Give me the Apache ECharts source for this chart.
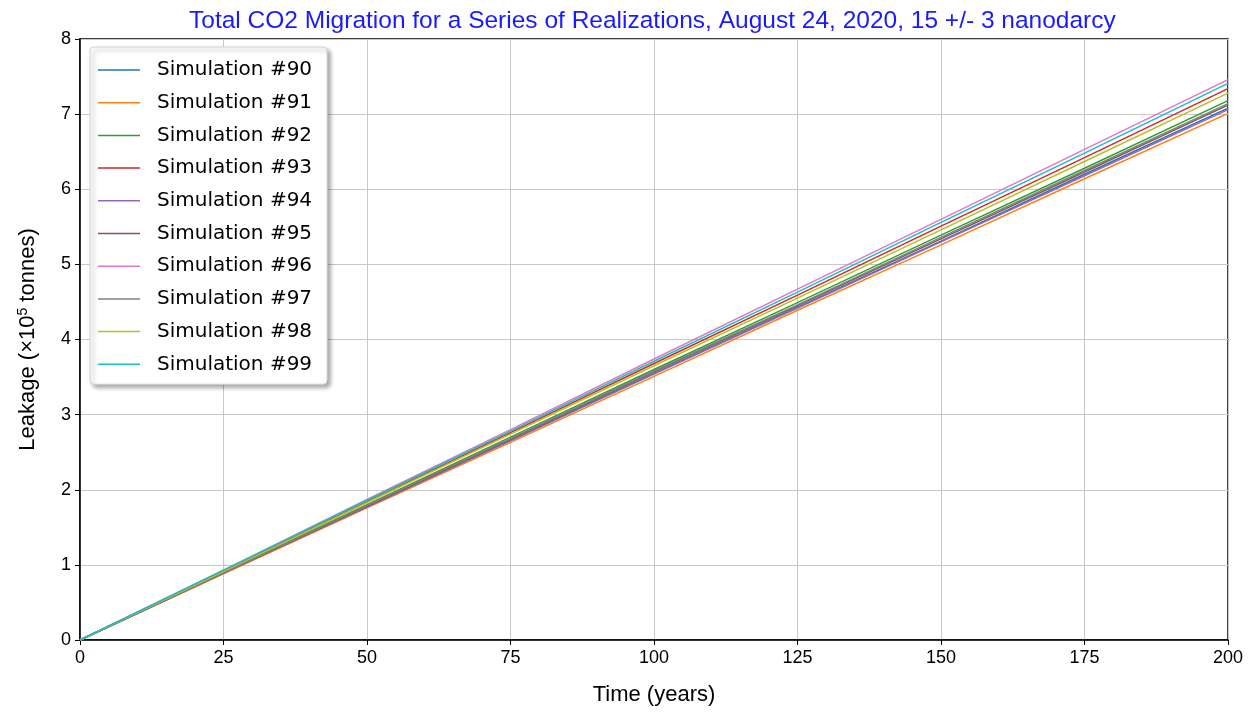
<!DOCTYPE html>
<html>
<head>
<meta charset="utf-8">
<script src="https://cdn.jsdelivr.net/npm/echarts@6/dist/echarts.min.js"></script>
<style>html,body{margin:0;padding:0;background:#fff;}#c{width:1257px;height:712px;}</style>
</head>
<body>
<div id="c"></div>
<script>
const years = [0, 25, 50, 75, 100, 125, 150, 175, 200];
const seriesNames = ['Simulation #90','Simulation #91','Simulation #92','Simulation #93','Simulation #94','Simulation #95','Simulation #96','Simulation #97','Simulation #98','Simulation #99'];
const sim90 = [0, 0.89, 1.78, 2.66, 3.55, 4.43, 5.31, 6.20, 7.08];
const sim91 = [0, 0.88, 1.76, 2.63, 3.51, 4.39, 5.26, 6.14, 7.01];
const sim92 = [0, 0.90, 1.80, 2.70, 3.60, 4.49, 5.39, 6.28, 7.18];
const sim93 = [0, 0.92, 1.84, 2.76, 3.68, 4.59, 5.51, 6.42, 7.34];
const sim94 = [0, 0.89, 1.77, 2.65, 3.54, 4.42, 5.30, 6.18, 7.06];
const sim95 = [0, 0.89, 1.78, 2.67, 3.57, 4.45, 5.34, 6.23, 7.12];
const sim96 = [0, 0.93, 1.87, 2.80, 3.74, 4.67, 5.60, 6.53, 7.46];
const sim97 = [0, 0.89, 1.79, 2.68, 3.58, 4.46, 5.36, 6.25, 7.14];
const sim98 = [0, 0.91, 1.83, 2.74, 3.65, 4.55, 5.46, 6.37, 7.28];
const sim99 = [0, 0.93, 1.86, 2.78, 3.71, 4.63, 5.56, 6.48, 7.41];
const allSims = [sim90, sim91, sim92, sim93, sim94, sim95, sim96, sim97, sim98, sim99];
const colors = ['#1f77b4','#ff7f0e','#2ca02c','#d62728','#9467bd','#8c564b','#e377c2','#7f7f7f','#bcbd22','#17becf'];
const titleText = 'Total CO2 Migration for a Series of Realizations, August 24, 2020, 15 +/- 3 nanodarcy';

const sans = '"Liberation Sans", Arial, sans-serif';
const chart = echarts.init(document.getElementById('c'), null, {renderer: 'canvas'});
chart.setOption({
  animation: false,
  color: colors,
  title: {
    text: titleText, left: 184, top: 4,
    textStyle: {color: '#1a1aff', fontFamily: sans, fontSize: 24.5, fontWeight: 'normal'}
  },
  grid: {left: 80, right: 29, top: 39, bottom: 72, show: true, borderColor: '#000', borderWidth: 1.5, containLabel: false},
  legend: {
    orient: 'vertical', left: 90, top: 47,
    data: seriesNames,
    icon: 'rect', itemWidth: 42, itemHeight: 1.5, itemGap: 12.7,
    padding: [13, 15, 10, 8],
    backgroundColor: '#fff', borderColor: '#d0d0d0', borderWidth: 1, borderRadius: 4,
    shadowBlur: 4, shadowOffsetX: 3, shadowOffsetY: 3, shadowColor: 'rgba(0,0,0,0.35)',
    textStyle: {fontFamily: '"DejaVu Sans", sans-serif', fontSize: 20, color: '#000', lineHeight: 20, padding: [0, 0, 0, 12]}
  },
  xAxis: {
    type: 'value', min: 0, max: 200, interval: 25,
    name: 'Time (years)', nameLocation: 'middle', nameGap: 44,
    nameTextStyle: {fontFamily: sans, fontSize: 22, color: '#000'},
    axisLine: {show: true, onZero: false, lineStyle: {color: '#000', width: 1.5}},
    axisTick: {show: true, length: 5, lineStyle: {color: '#000'}},
    axisLabel: {fontFamily: sans, fontSize: 18, color: '#000', margin: 9},
    splitLine: {show: true, lineStyle: {color: '#c8c8c8', width: 1}}
  },
  yAxis: {
    type: 'value', min: 0, max: 8, interval: 1,
    name: 'Leakage (×10{sup|5} tonnes)', nameLocation: 'middle', nameGap: 40,
    nameTextStyle: {fontFamily: sans, fontSize: 22, color: '#000',
      rich: {sup: {fontFamily: sans, fontSize: 14, color: '#000', verticalAlign: 'top', padding: [0, 0, 10, 0]}}},
    axisLine: {show: true, lineStyle: {color: '#000', width: 1.5}},
    axisTick: {show: true, length: 5, lineStyle: {color: '#000'}},
    axisLabel: {fontFamily: sans, fontSize: 18, color: '#000', margin: 9},
    splitLine: {show: true, lineStyle: {color: '#c8c8c8', width: 1}}
  },
  series: seriesNames.map((n, i) => ({
    name: n, type: 'line', showSymbol: false, symbol: 'none',
    lineStyle: {width: 1.5, color: colors[i]},
    data: years.map((y, k) => [y, allSims[i][k]])
  }))
});
</script>
</body>
</html>
